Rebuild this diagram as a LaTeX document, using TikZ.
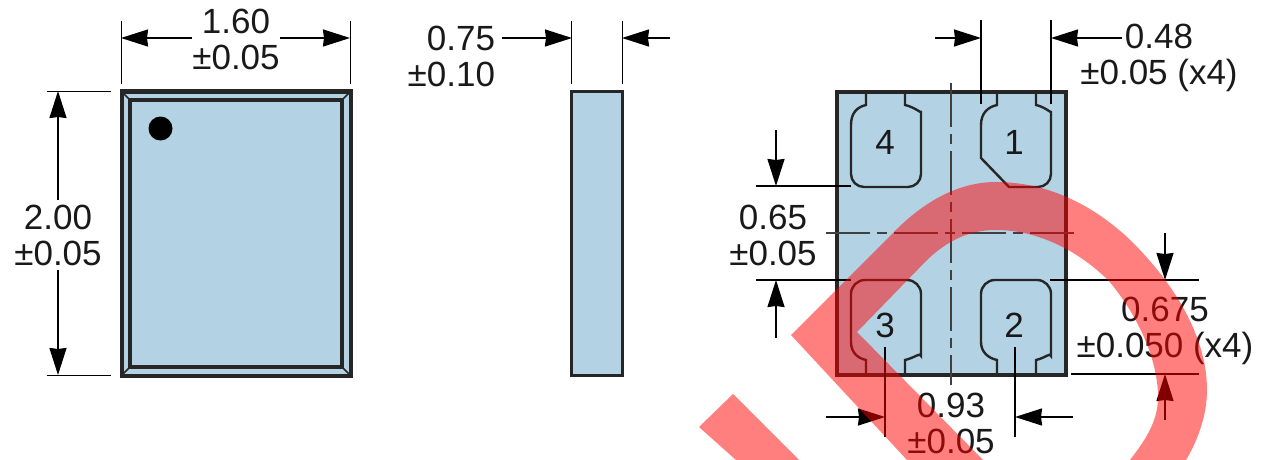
\documentclass[tikz,border=0pt]{standalone}
\usepackage{fontspec}
\setmainfont{Liberation Sans}
\usetikzlibrary{positioning, arrows.meta, calc}
\definecolor{colour_body}{HTML}{B3D3E5}
\definecolor{colour_line}{HTML}{262626}

\begin{document}
\begin{tikzpicture}[
    x=1pt, y=-1pt,
    font=\fontsize{35}{36}\selectfont,
    pkg/.style={rectangle, draw=colour_line, fill=colour_body, line width=4pt,
                inner sep=0pt, outer sep=0pt},
    bevel/.style={colour_line, line width=1.5pt},
    pad/.style={colour_line, line width=2.4pt},
    leader/.style={black, line width=1.8pt},
    arrow/.style={-{Stealth[length=27pt, width=17pt, inset=1pt]}, black, line width=1.8pt},
    centre/.style={black!75, line width=1.8pt, dash pattern=on 44pt off 7pt on 10pt off 7pt},
    dimtext/.style={align=center, inner sep=0pt, outer sep=0pt, text=black!90},
    padno/.style={inner sep=0pt, outer sep=0pt, text=black!90},
    swoosh/.style={fill=red, fill opacity=0.5}
]
\useasboundingbox (0,0) rectangle (1264,460);

% Top view
\node[pkg, minimum width=229pt, minimum height=284pt, anchor=north west] (top) at (121.5,91.5) {};
\node[rectangle, draw=colour_line, line width=4pt, inner sep=0pt, outer sep=0pt,
      minimum width=212pt, minimum height=267pt, anchor=north west] (topin) at (130,100) {};
\draw[bevel] (top.north west) -- (topin.north west);
\draw[bevel] (top.north east) -- (topin.north east);
\draw[bevel] (top.south west) -- (topin.south west);
\draw[bevel] (top.south east) -- (topin.south east);
\node[circle, fill=black, minimum size=24pt, inner sep=0pt] (dot) at (160.5,128.5) {};

% Side view
\node[pkg, line width=3pt, minimum width=51pt, minimum height=284pt, anchor=north west] (side) at (571.5,91.5) {};

% Bottom view
\node[pkg, minimum width=229pt, minimum height=283pt, anchor=north west] (bot) at (836.5,92) {};

% Pads
\draw[pad] (866,92) -- (866,105) .. controls (857,107) and (851,113) .. (851,125)
    [rounded corners=13pt] -- (851,187) -- (921,187) -- (921,125) [sharp corners]
    .. controls (921,113) and (914,107) .. (905,105) -- (905,92);
\draw[pad] (997,92) -- (997,105) .. controls (988,107) and (981,113) .. (981,125) -- (981,158) -- (1009,187)
    [rounded corners=13pt] -- (1051,187) -- (1051,125) [sharp corners]
    .. controls (1051,113) and (1045,107) .. (1036,105) -- (1036,92);
\draw[pad] (866,375) -- (866,360) .. controls (857,358) and (851,352) .. (851,342)
    [rounded corners=14pt] -- (851,280) -- (921,280) -- (921,342) [sharp corners]
    .. controls (921,352) and (914,358) .. (905,360) -- (905,375);
\draw[pad] (997,375) -- (997,360) .. controls (988,358) and (981,352) .. (981,342)
    [rounded corners=14pt] -- (981,280) -- (1051,280) -- (1051,342) [sharp corners]
    .. controls (1051,352) and (1045,358) .. (1036,360) -- (1036,375);
\node[padno] (p4) at (885,142) {4};
\node[padno] (p1) at (1014,142) {1};
\node[padno] (p3) at (885,325) {3};
\node[padno] (p2) at (1014,325) {2};

% Centre lines
\coordinate (cvtop) at (951,83);
\coordinate (cvbot) at (951,385);
\coordinate (chleft) at (826,233);
\coordinate (chright) at (1077,233);
\draw[centre] (cvtop) -- (cvbot);
\draw[centre] (chleft) -- (chright);

% Width of top view
\node[dimtext] (w) at (236,39.5) {1.60\\±0.05};
\draw[leader] ($(top.north west)+(0,-70)$) -- ($(top.north west)+(0,-7)$);
\draw[leader] ($(top.north east)+(0,-70)$) -- ($(top.north east)+(0,-7)$);
\coordinate (wl) at (121,38);
\coordinate (wr) at (350,38);
\draw[arrow] (wl -| w.west) -- (wl);
\draw[arrow] (wr -| w.east) -- (wr);

% Height of top view
\node[dimtext] (h) at (58,235) {2.00\\±0.05};
\draw[leader] ($(top.north west)+(-75,0)$) -- ($(top.north west)+(-11,0)$);
\draw[leader] ($(top.south west)+(-75,0)$) -- ($(top.south west)+(-11,0)$);
\coordinate (ht) at (58,91);
\coordinate (hb) at (58,375);
\draw[arrow] ($(h.north)+(0,-5)$) -- (ht);
\draw[arrow] ($(h.south)+(0,5)$) -- (hb);

% Thickness
\node[dimtext, align=right, anchor=east] (t) at (495,56.5) {0.75\\±0.10};
\draw[leader] ($(side.north west)+(0,-70)$) -- ($(side.north west)+(0,-7)$);
\draw[leader] ($(side.north east)+(0,-70)$) -- ($(side.north east)+(0,-7)$);
\coordinate (tl) at (572,38);
\coordinate (tr) at (622,38);
\coordinate (tend) at (670,38);
\draw[arrow] (tl -| t.east) ++(7,0) -- (tl);
\draw[arrow] (tend) -- (tr);

% Pad width
\node[dimtext] (pw) at (1159,57.5) {0.48\\±0.05 (x4)};
\coordinate (pwlt) at (981,20);
\coordinate (pwlb) at (981,104);
\coordinate (pwrt) at (1051,20);
\coordinate (pwrb) at (1051,104);
\coordinate (pwl) at (981,38);
\coordinate (pwr) at (1051,38);
\coordinate (pwstart) at (935,38);
\coordinate (pwend) at (1122,38);
\draw[leader] (pwlt) -- (pwlb);
\draw[leader] (pwrt) -- (pwrb);
\draw[arrow] (pwstart) -- (pwl);
\draw[arrow] (pwend) -- (pwr);

% Pad gap
\node[dimtext] (gap) at (773,235.5) {0.65\\±0.05};
\coordinate (gtl) at (756,186);
\coordinate (gtr) at (851,186);
\coordinate (gbl) at (756,280);
\coordinate (gbr) at (851,280);
\coordinate (gt) at (776,186);
\coordinate (gb) at (776,280);
\coordinate (gtstart) at (776,130);
\coordinate (gbstart) at (776,338);
\draw[leader] (gtl) -- (gtr);
\draw[leader] (gbl) -- (gbr);
\draw[arrow] (gtstart) -- (gt);
\draw[arrow] (gbstart) -- (gb);

% Pad length
\node[dimtext] (pl) at (1165,330.5) {0.675\\±0.050 (x4)};
\coordinate (pltl) at (1050,280);
\coordinate (pltr) at (1199,280);
\coordinate (plbl) at (1071,374);
\coordinate (plbr) at (1199,374);
\coordinate (plt) at (1165,280);
\coordinate (plb) at (1165,374);
\coordinate (pltstart) at (1165,233);
\coordinate (plbstart) at (1165,420);
\draw[leader] (pltl) -- (pltr);
\draw[leader] (plbl) -- (plbr);
\draw[arrow] (pltstart) -- (plt);
\draw[arrow] (plbstart) -- (plb);

% Pad pitch
\node[dimtext] (pitch) at (951,423.5) {0.93\\±0.05};
\coordinate (ptlt) at (885,347);
\coordinate (ptlb) at (885,437);
\coordinate (ptrt) at (1015,347);
\coordinate (ptrb) at (1015,437);
\coordinate (ptl) at (885,417);
\coordinate (ptr) at (1015,417);
\coordinate (ptstart) at (826,417);
\coordinate (ptend) at (1073,417);
\draw[leader] (ptlt) -- (ptlb);
\draw[leader] (ptrt) -- (ptrb);
\draw[arrow] (ptstart) -- (ptl);
\draw[arrow] (ptend) -- (ptr);

% Red stroke across the drawing
\fill[swoosh] (907,460) -- (791,335) -- (893,233)
    .. controls (925,200) and (960,182) .. (996,182)
    .. controls (1045,182) and (1090,203) .. (1127,237)
    .. controls (1172,280) and (1207,335) .. (1207,390)
    .. controls (1207,415) and (1198,440) .. (1186,460)
    -- (1130,460)
    .. controls (1147,438) and (1158,420) .. (1158,397)
    .. controls (1158,360) and (1138,315) .. (1108,280)
    .. controls (1075,248) and (1035,230) .. (996,230)
    .. controls (970,230) and (948,240) .. (927,260)
    -- (857,332) -- (983,460) -- cycle;
\fill[swoosh] (699,427) -- (733,394) -- (799,460) -- (736,460) -- cycle;

\end{tikzpicture}
\end{document}
